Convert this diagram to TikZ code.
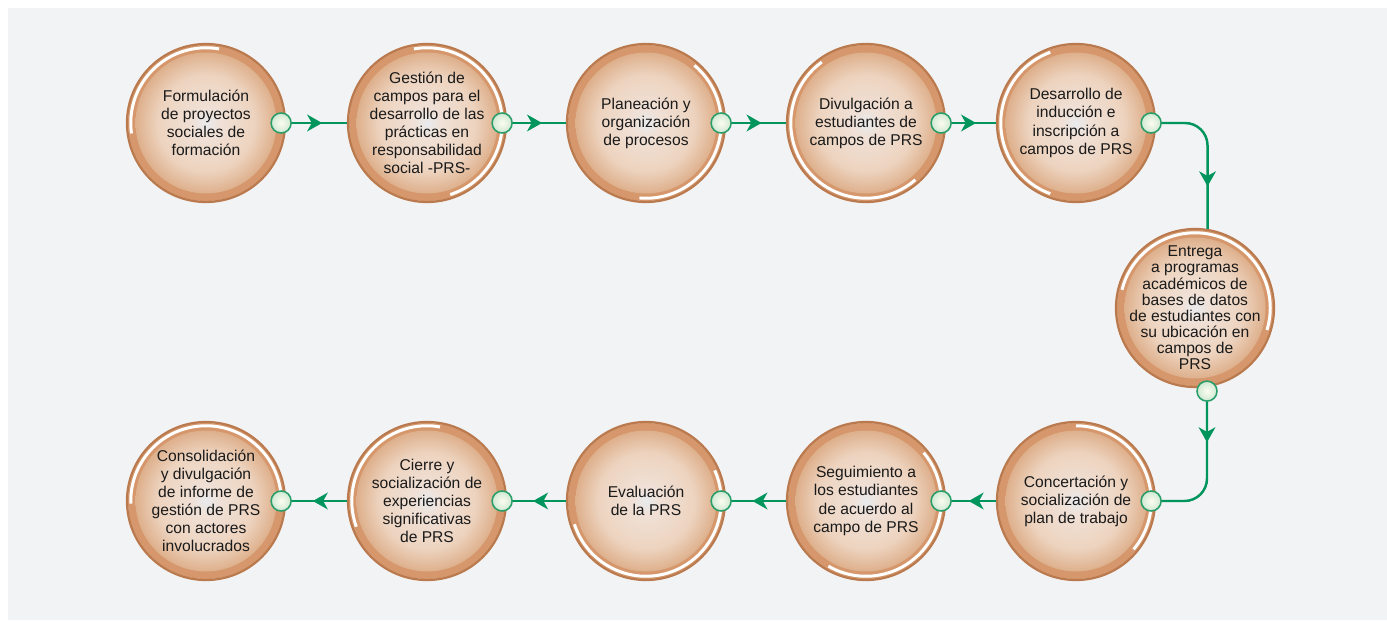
\documentclass[tikz,border=0pt]{standalone}
\usepackage{fontspec}
\setmainfont{Liberation Sans}
\usepackage{xcolor}
\usepackage{tikz}
\usetikzlibrary{positioning, arrows.meta, decorations.markings}

\definecolor{bgpanel}{HTML}{F2F3F5}
\definecolor{ringbrown}{HTML}{BA7A4E}
\definecolor{ringtan}{HTML}{D5976B}
\definecolor{flowgreen}{HTML}{00955C}
\definecolor{dotgreen}{HTML}{2A9E6A}
\definecolor{dotcore}{HTML}{FCFCF1}
\definecolor{dotedge}{HTML}{CFE9D2}
\definecolor{txtdark}{HTML}{1A1A1A}

\pgfdeclareradialshading{discshade}{\pgfpoint{0bp}{0bp}}{%
  rgb(0bp)=(0.91,0.92,0.93);
  rgb(5bp)=(0.94,0.88,0.84);
  rgb(17bp)=(0.93,0.83,0.75);
  rgb(25bp)=(0.87,0.69,0.55);
  rgb(50bp)=(0.87,0.69,0.55)}

\tikzset{
  stepcirc/.style 2 args={circle, minimum size=3.16cm, inner sep=0pt,
    draw=ringbrown, line width=1.3pt,
    path picture={
      \fill[ringtan] (path picture bounding box.center) circle (1.56cm);
      \draw[white, line width=1.7pt] ([shift={(#1:1.505cm)}]path picture bounding box.center)
        arc[start angle=#1, end angle=#2, radius=1.505cm];
      \shade[shading=discshade] (path picture bounding box.center) circle (1.41cm);
    }},
  steptext/.style={align=center, text=txtdark, inner sep=0pt,
    font=\fontsize{8.9}{10.3}\selectfont},
  linkdot/.style={circle, minimum size=0.4cm, inner sep=0pt, draw=dotgreen,
    line width=0.9pt, inner color=dotcore, outer color=dotedge},
  flowline/.style={draw=flowgreen, line width=1.4pt, rounded corners=0.45cm,
    postaction={decorate}, decoration={markings,
      mark=at position #1 with {\arrow{Stealth[length=8.5pt, width=9.5pt, inset=2.6pt]}}}},
  flowline/.default=0.55
}

\begin{document}
\begin{tikzpicture}[x=0.02cm, y=0.02cm]
    \useasboundingbox (0,0) rectangle (1387,620);
    % Panel
    \fill[bgpanel] (8,0) rectangle (1387,612);
    % Upper row
    \node[stepcirc={80}{188}, label={[steptext]center:Formulación\\de proyectos\\sociales de\\formación}] (f1) at (206,497) {};
    \node[stepcirc={-72}{100}, label={[steptext]center:Gestión de\\campos para el\\desarrollo de las\\prácticas en\\responsabilidad\\social -PRS-}] (f2) at (427,497) {};
    \node[stepcirc={-95}{50}, label={[steptext]center:Planeación y\\organización\\de procesos}] (f3) at (646,497) {};
    \node[stepcirc={126}{311}, label={[steptext]center:Divulgación a\\estudiantes de\\campos de PRS}] (f4) at (866,497) {};
    \node[stepcirc={110}{250}, label={[steptext]center:Desarrollo de\\inducción e\\inscripción a\\campos de PRS}] (f5) at (1076,497) {};
    % Turn
    \node[stepcirc={-17}{166}, label={[steptext, font=\fontsize{8.9}{9.2}\selectfont]center:Entrega\\a programas\\académicos de\\bases de datos\\de estudiantes con\\su ubicación en\\campos de\\PRS}] (f6) at (1195,312) {};
    % Lower row
    \node[stepcirc={-40}{90}, label={[steptext]center:Concertación y\\socialización de\\plan de trabajo}] (f7) at (1076,119) {};
    \node[stepcirc={-120}{40}, label={[steptext]center:Seguimiento a\\los estudiantes\\de acuerdo al\\campo de PRS}] (f8) at (866,119) {};
    \node[stepcirc={198}{384}, label={[steptext]center:Evaluación\\de la PRS}] (f9) at (646,119) {};
    \node[stepcirc={80}{200}, label={[steptext]center:Cierre y\\socialización de\\experiencias\\significativas\\de PRS}] (f10) at (427,119) {};
    \node[stepcirc={5}{182}, label={[steptext]center:Consolidación\\y divulgación\\de informe de\\gestión de PRS\\con actores\\involucrados}] (f11) at (206,119) {};
    % Link dots
    \foreach \n in {1,2,3,4,5,7,8,9,10,11}
        \node[linkdot] (d\n) at ([xshift=-0.1cm]f\n.east) {};
    \node[linkdot] (d6) at ([xshift=0.24cm, yshift=-0.06cm]f6.south) {};
    % Connectors
    \foreach \a/\b in {d1/f2, d2/f3, d3/f4, d4/f5}
        \draw[flowline] (\a) -- (\b);
    \draw[flowline=0.7] (d5) -| (f6.81);
    \draw[flowline=0.3] (d6) |- (d7);
    \foreach \a/\b in {f7/d8, f8/d9, f9/d10, f10/d11}
        \draw[flowline=0.62] (\a) -- (\b);
\end{tikzpicture}
\end{document}
